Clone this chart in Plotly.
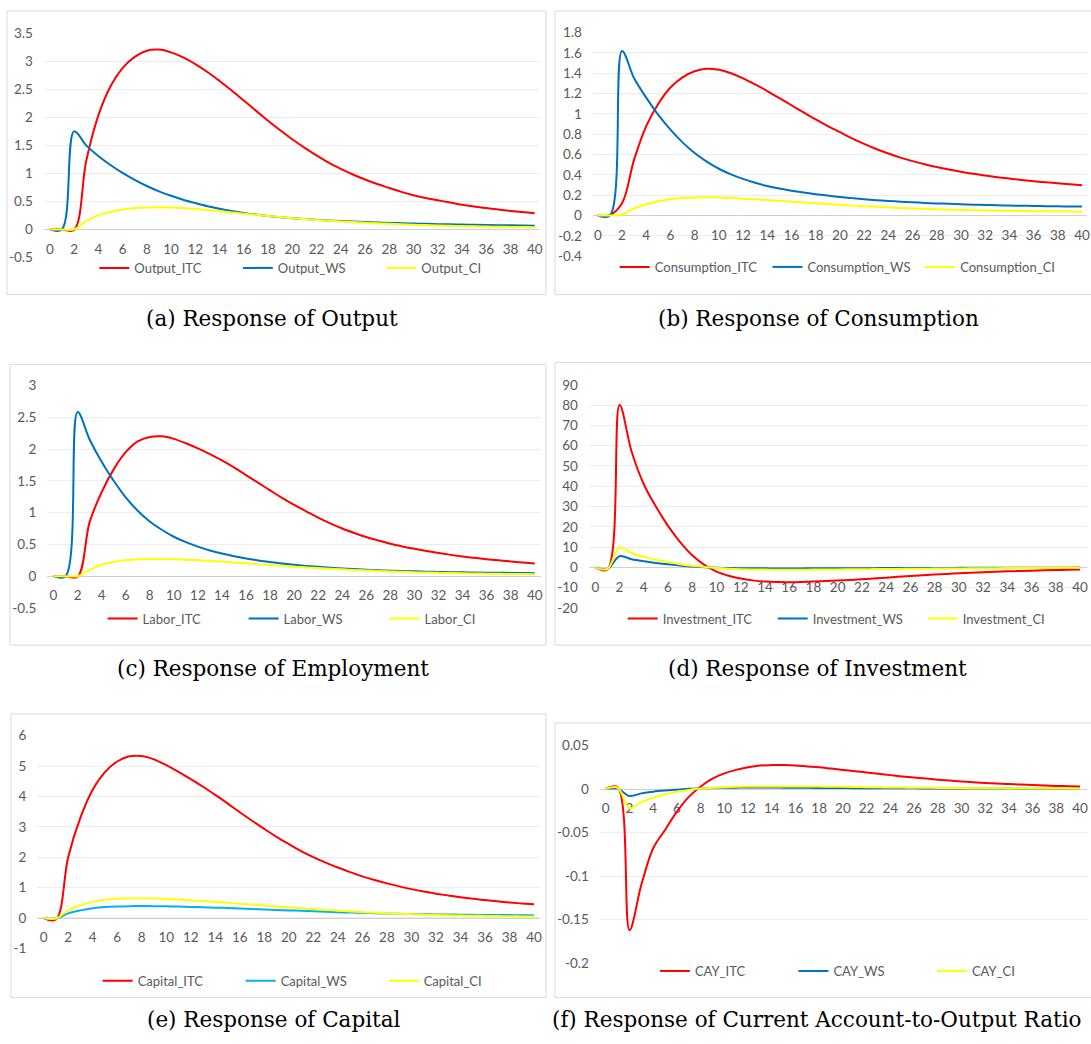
import plotly.graph_objects as go

W, H = 1091, 1044

# ---------------- data ----------------
periods = list(range(41))
x_tick_vals = list(range(0, 41, 2))
x_tick_text = [str(v) for v in x_tick_vals]

output_itc = [0, 0, -0.01, 1.22, 2.03, 2.55, 2.88, 3.08, 3.19, 3.21, 3.16, 3.07, 2.95, 2.81, 2.65, 2.48, 2.3, 2.12, 1.94, 1.77,
              1.61, 1.46, 1.32, 1.19, 1.08, 0.98, 0.89, 0.81, 0.74, 0.67, 0.61, 0.56, 0.52, 0.48, 0.44, 0.41, 0.38, 0.355, 0.33, 0.31, 0.29]
output_ws = [0, 0, 1.75, 1.5, 1.31, 1.15, 1.01, 0.885, 0.775, 0.68, 0.6, 0.53, 0.47, 0.415, 0.37, 0.33, 0.295, 0.265, 0.24, 0.218,
             0.2, 0.185, 0.172, 0.16, 0.15, 0.14, 0.131, 0.123, 0.116, 0.11, 0.104, 0.099, 0.094, 0.09, 0.086, 0.082, 0.078, 0.075, 0.072, 0.069, 0.066]
output_ci = [0, 0, 0, 0.15, 0.25, 0.31, 0.355, 0.38, 0.393, 0.395, 0.39, 0.38, 0.365, 0.345, 0.325, 0.303, 0.281, 0.26, 0.24, 0.22,
             0.2, 0.184, 0.169, 0.155, 0.142, 0.13, 0.119, 0.109, 0.1, 0.092, 0.084, 0.077, 0.07, 0.064, 0.059, 0.055, 0.051, 0.047, 0.044, 0.041, 0.038]

cons_itc = [0, 0.005, 0.12, 0.55, 0.88, 1.1, 1.26, 1.36, 1.42, 1.445, 1.435, 1.4, 1.35, 1.29, 1.225, 1.155, 1.085, 1.015, 0.945, 0.88,
            0.82, 0.76, 0.705, 0.655, 0.61, 0.57, 0.535, 0.505, 0.477, 0.452, 0.43, 0.41, 0.393, 0.377, 0.363, 0.35, 0.338, 0.327, 0.317, 0.307, 0.298]
cons_ws = [0, 0, 1.62, 1.35, 1.16, 0.99, 0.845, 0.72, 0.615, 0.53, 0.46, 0.405, 0.36, 0.322, 0.29, 0.265, 0.244, 0.226, 0.21, 0.196,
           0.183, 0.171, 0.16, 0.151, 0.143, 0.136, 0.13, 0.124, 0.119, 0.115, 0.111, 0.107, 0.104, 0.101, 0.098, 0.096, 0.094, 0.092, 0.09, 0.089, 0.088]
cons_ci = [0, 0, 0.01, 0.07, 0.11, 0.14, 0.16, 0.172, 0.178, 0.179, 0.177, 0.172, 0.166, 0.159, 0.152, 0.144, 0.136, 0.128, 0.12, 0.112,
           0.105, 0.098, 0.092, 0.086, 0.08, 0.075, 0.07, 0.066, 0.062, 0.058, 0.055, 0.052, 0.05, 0.048, 0.046, 0.044, 0.042, 0.041, 0.04, 0.039, 0.038]

labor_itc = [0, 0, -0.01, 0.85, 1.32, 1.68, 1.95, 2.12, 2.19, 2.2, 2.16, 2.09, 2.01, 1.92, 1.82, 1.71, 1.59, 1.47, 1.35, 1.23,
             1.12, 1.02, 0.92, 0.83, 0.75, 0.68, 0.615, 0.56, 0.51, 0.468, 0.43, 0.395, 0.363, 0.335, 0.31, 0.288, 0.268, 0.25, 0.232, 0.215, 0.2]
labor_ws = [0, 0, 2.58, 2.15, 1.8, 1.5, 1.24, 1.03, 0.86, 0.73, 0.62, 0.535, 0.465, 0.405, 0.355, 0.313, 0.278, 0.248, 0.222, 0.199,
            0.179, 0.162, 0.147, 0.134, 0.122, 0.111, 0.102, 0.094, 0.087, 0.081, 0.076, 0.071, 0.067, 0.063, 0.06, 0.057, 0.055, 0.053, 0.051, 0.049, 0.047]
labor_ci = [0, 0, 0, 0.1, 0.18, 0.222, 0.25, 0.265, 0.27, 0.27, 0.265, 0.258, 0.25, 0.24, 0.229, 0.216, 0.202, 0.188, 0.175, 0.162,
            0.15, 0.138, 0.127, 0.117, 0.107, 0.098, 0.09, 0.082, 0.075, 0.068, 0.062, 0.057, 0.052, 0.048, 0.045, 0.042, 0.039, 0.037, 0.035, 0.033, 0.031]

inv_itc = [0, -1.0, 80, 57, 41, 30, 20.5, 12.5, 6, 1.2, -2.1, -4.1, -5.5, -6.4, -7, -7.25, -7.3, -7.2, -7, -6.75,
           -6.5, -6.2, -5.85, -5.45, -5.05, -4.65, -4.25, -3.87, -3.52, -3.2, -2.9, -2.63, -2.38, -2.16, -1.96, -1.78, -1.61, -1.45, -1.3, -1.15, -1.0]
inv_ws = [0, -0.8, 5.5, 4.0, 3.0, 2.2, 1.5, 0.9, 0.4, 0.1, -0.15, -0.3, -0.4, -0.45, -0.48, -0.5, -0.5, -0.49, -0.47, -0.45,
          -0.43, -0.41, -0.39, -0.37, -0.35, -0.33, -0.31, -0.29, -0.27, -0.25, -0.23, -0.21, -0.2, -0.19, -0.18, -0.17, -0.16, -0.15, -0.14, -0.12, -0.11]
inv_ci = [0, -0.8, 9.8, 7.0, 5.2, 3.8, 2.6, 1.6, 0.8, 0.2, -0.3, -0.65, -0.9, -1.04, -1.1, -1.14, -1.15, -1.13, -1.1, -1.05,
          -1.0, -0.95, -0.9, -0.85, -0.8, -0.75, -0.7, -0.65, -0.6, -0.55, -0.5, -0.46, -0.42, -0.38, -0.35, -0.32, -0.29, -0.26, -0.24, -0.22, -0.2]

cap_itc = [0, -0.05, 2.0, 3.3, 4.22, 4.8, 5.15, 5.32, 5.33, 5.22, 5.03, 4.81, 4.57, 4.32, 4.05, 3.77, 3.48, 3.2, 2.93, 2.67,
           2.43, 2.2, 2.0, 1.82, 1.66, 1.51, 1.37, 1.25, 1.14, 1.04, 0.95, 0.87, 0.8, 0.74, 0.68, 0.63, 0.59, 0.55, 0.51, 0.48, 0.45]
cap_ws = [0, -0.02, 0.15, 0.25, 0.32, 0.36, 0.38, 0.39, 0.393, 0.39, 0.385, 0.375, 0.365, 0.352, 0.34, 0.325, 0.31, 0.295, 0.28, 0.265,
          0.25, 0.235, 0.22, 0.205, 0.19, 0.178, 0.166, 0.155, 0.145, 0.137, 0.13, 0.124, 0.118, 0.113, 0.108, 0.104, 0.1, 0.097, 0.094, 0.092, 0.09]
cap_ci = [0, -0.02, 0.25, 0.42, 0.53, 0.6, 0.635, 0.65, 0.65, 0.64, 0.625, 0.605, 0.58, 0.555, 0.528, 0.5, 0.47, 0.44, 0.41, 0.38,
          0.35, 0.32, 0.292, 0.265, 0.24, 0.215, 0.192, 0.171, 0.152, 0.135, 0.12, 0.108, 0.097, 0.088, 0.08, 0.073, 0.067, 0.062, 0.057, 0.051, 0.046]

cay_itc = [0, 0.002, -0.162, -0.11, -0.068, -0.047, -0.026, -0.009, 0.003, 0.012, 0.018, 0.022, 0.025, 0.027, 0.0275, 0.0275, 0.027, 0.026, 0.025, 0.0235,
           0.022, 0.0205, 0.019, 0.0175, 0.016, 0.0145, 0.0132, 0.012, 0.0108, 0.0097, 0.0087, 0.0078, 0.007, 0.0063, 0.0057, 0.0051, 0.0046, 0.0041, 0.0036, 0.0032, 0.0028]
cay_ws = [0, 0.0005, -0.008, -0.005, -0.003, -0.0017, -0.0007, 0.0002, 0.0008, 0.0012, 0.0015, 0.0016, 0.0017, 0.0017, 0.0017, 0.0016, 0.0015, 0.0014, 0.0013, 0.0012,
          0.0011, 0.001, 0.001, 0.0009, 0.0009, 0.0008, 0.0008, 0.0007, 0.0007, 0.0006, 0.0006, 0.0006, 0.0005, 0.0005, 0.0005, 0.0004, 0.0004, 0.0004, 0.0003, 0.0003, 0.0003]
cay_ci = [0, 0.0015, -0.022, -0.015, -0.01, -0.006, -0.003, -0.001, 0.0005, 0.0015, 0.002, 0.0025, 0.0028, 0.003, 0.003, 0.003, 0.003, 0.0029, 0.0028, 0.0027,
          0.0026, 0.0024, 0.0022, 0.002, 0.0018, 0.0017, 0.0015, 0.0014, 0.0013, 0.0012, 0.0011, 0.001, 0.0009, 0.0008, 0.0007, 0.0007, 0.0006, 0.0006, 0.0005, 0.0005, 0.0004]

names_a = ["Output_ITC", "Output_WS", "Output_CI"]
names_b = ["Consumption_ITC", "Consumption_WS", "Consumption_CI"]
names_c = ["Labor_ITC", "Labor_WS", "Labor_CI"]
names_d = ["Investment_ITC", "Investment_WS", "Investment_CI"]
names_e = ["Capital_ITC", "Capital_WS", "Capital_CI"]
names_f = ["CAY_ITC", "CAY_WS", "CAY_CI"]

yt_a = [-0.5, 0, 0.5, 1, 1.5, 2, 2.5, 3, 3.5]
yl_a = ["-0.5", "0", "0.5", "1", "1.5", "2", "2.5", "3", "3.5"]
yt_b = [-0.4, -0.2, 0, 0.2, 0.4, 0.6, 0.8, 1, 1.2, 1.4, 1.6, 1.8]
yl_b = ["-0.4", "-0.2", "0", "0.2", "0.4", "0.6", "0.8", "1", "1.2", "1.4", "1.6", "1.8"]
yt_c = [-0.5, 0, 0.5, 1, 1.5, 2, 2.5, 3]
yl_c = ["-0.5", "0", "0.5", "1", "1.5", "2", "2.5", "3"]
yt_d = [-20, -10, 0, 10, 20, 30, 40, 50, 60, 70, 80, 90]
yl_d = ["-20", "-10", "0", "10", "20", "30", "40", "50", "60", "70", "80", "90"]
yt_e = [-1, 0, 1, 2, 3, 4, 5, 6]
yl_e = ["-1", "0", "1", "2", "3", "4", "5", "6"]
yt_f = [-0.2, -0.15, -0.1, -0.05, 0, 0.05]
yl_f = ["-0.2", "-0.15", "-0.1", "-0.05", "0", "0.05"]

captions = ["(a) Response of Output", "(b) Response of Consumption", "(c) Response of Employment",
            "(d) Response of Investment", "(e) Response of Capital", "(f) Response of Current Account-to-Output Ratio"]

RED, BLUE, YEL, LBLUE = "#FF0000", "#0070C0", "#FFFF00", "#00B0F0"

panels = [
    dict(names=names_a, series=[output_itc, output_ws, output_ci], colors=[RED, BLUE, YEL], yt=yt_a, yl=yl_a),
    dict(names=names_b, series=[cons_itc, cons_ws, cons_ci], colors=[RED, BLUE, YEL], yt=yt_b, yl=yl_b),
    dict(names=names_c, series=[labor_itc, labor_ws, labor_ci], colors=[RED, BLUE, YEL], yt=yt_c, yl=yl_c),
    dict(names=names_d, series=[inv_itc, inv_ws, inv_ci], colors=[RED, BLUE, YEL], yt=yt_d, yl=yl_d),
    dict(names=names_e, series=[cap_itc, cap_ws, cap_ci], colors=[RED, LBLUE, YEL], yt=yt_e, yl=yl_e),
    dict(names=names_f, series=[cay_itc, cay_ws, cay_ci], colors=[RED, BLUE, YEL], yt=yt_f, yl=yl_f),
]

# ---------------- layout geometry (pixels) ----------------
geom = [
    dict(x0=50, x40=536.7, gl=44, gr=541, yt=25.7, yb=253.3, box=(7, 3, 548, 291), lx=134.7, ls=143.5, ly=266, cx=273, cy=315),
    dict(x0=600, x40=1086, gl=595, gr=1091, yt=25, yb=252, box=(557, 3, 1096, 291), lx=657, ls=152.7, ly=265, cx=822, cy=315),
    dict(x0=53.7, x40=536.7, gl=47.4, gr=542.7, yt=383.3, yb=609.3, box=(10, 362, 548, 647), lx=143, ls=141, ly=622, cx=274, cy=671),
    dict(x0=597.5, x40=1084, gl=591, gr=1091, yt=382.7, yb=609.3, box=(557, 360, 1096, 647), lx=665, ls=150, ly=622, cx=821, cy=671),
    dict(x0=43.8, x40=536, gl=37.5, gr=542, yt=739, yb=955, box=(11, 717, 548, 1005), lx=138, ls=143, ly=990, cx=275, cy=1027),
    dict(x0=608, x40=1084, gl=602, gr=1091, yt=749, yb=970, box=(557, 726, 1096, 1005), lx=697.3, ls=138.5, ly=980, cx=820, cy=1027),
]


def fx(px):
    return px / W


def fy(py):
    return 1 - py / H


TICK_FONT = dict(family="Lato, Calibri, sans-serif", size=13.5, color="#595959")
LEG_FONT = dict(family="Lato, Calibri, sans-serif", size=13, color="#595959")

fig = go.Figure()
layout = dict(width=W, height=H, margin=dict(l=0, r=0, t=0, b=0), plot_bgcolor="white",
              paper_bgcolor="white", showlegend=True, shapes=[], annotations=[])

for i, (p, g) in enumerate(zip(panels, geom), start=1):
    sfx = "" if i == 1 else str(i)
    leg = "legend" if i == 1 else f"legend{i}"
    for name, ys, col in zip(p["names"], p["series"], p["colors"]):
        fig.add_trace(go.Scatter(x=periods, y=ys, name=name, mode="lines",
                                 line=dict(color=col, width=2, shape="spline", smoothing=1),
                                 xaxis="x" + sfx, yaxis="y" + sfx, legend=leg, hoverinfo="skip"))
    u = 40 / (g["x40"] - g["x0"])
    xr = [-(g["x0"] - g["gl"]) * u, 40 + (g["gr"] - g["x40"]) * u]
    ymin, ymax = p["yt"][0], p["yt"][-1]
    zero_px = g["yb"] - (0 - ymin) / (ymax - ymin) * (g["yb"] - g["yt"])
    layout["xaxis" + sfx] = dict(domain=[fx(g["gl"]), min(1, fx(g["gr"]))], range=xr,
                                 anchor="free", position=fy(zero_px), showgrid=False, zeroline=False,
                                 showline=True, linecolor="#D0D0D0", linewidth=1, layer="below traces",
                                 tickvals=x_tick_vals, ticktext=x_tick_text, ticks="",
                                 ticklabelstandoff=7, tickfont=TICK_FONT, fixedrange=True)
    layout["yaxis" + sfx] = dict(domain=[fy(g["yb"]), fy(g["yt"])], range=[ymin, ymax],
                                 anchor="x" + sfx, showgrid=True, gridcolor="#EDEDED", gridwidth=1,
                                 zeroline=False, showline=False, tickvals=p["yt"], ticktext=p["yl"],
                                 ticks="", ticklabelstandoff=10, tickfont=TICK_FONT, fixedrange=True)
    layout[leg] = dict(orientation="h", x=fx(g["lx"] - 40), y=fy(g["ly"] - 2), xanchor="left", yanchor="middle",
                       entrywidth=g["ls"] - 45, entrywidthmode="pixels", font=LEG_FONT,
                       bgcolor="rgba(0,0,0,0)", borderwidth=0, itemwidth=30)
    bx0, by0, bx1, by1 = g["box"]
    layout["shapes"].append(dict(type="rect", xref="paper", yref="paper", x0=fx(bx0), x1=fx(bx1),
                                 y0=fy(by1), y1=fy(by0), line=dict(color="#D9D9D9", width=1),
                                 fillcolor="rgba(0,0,0,0)", layer="below"))
    layout["annotations"].append(dict(text=captions[i - 1], x=fx(g["cx"]), y=fy(g["cy"]), xref="paper",
                                      yref="paper", xanchor="center", yanchor="middle", showarrow=False,
                                      font=dict(family="DejaVu Serif, serif", size=21.5, color="black")))

fig.update_layout(**layout)
fig.write_html("out.html")
